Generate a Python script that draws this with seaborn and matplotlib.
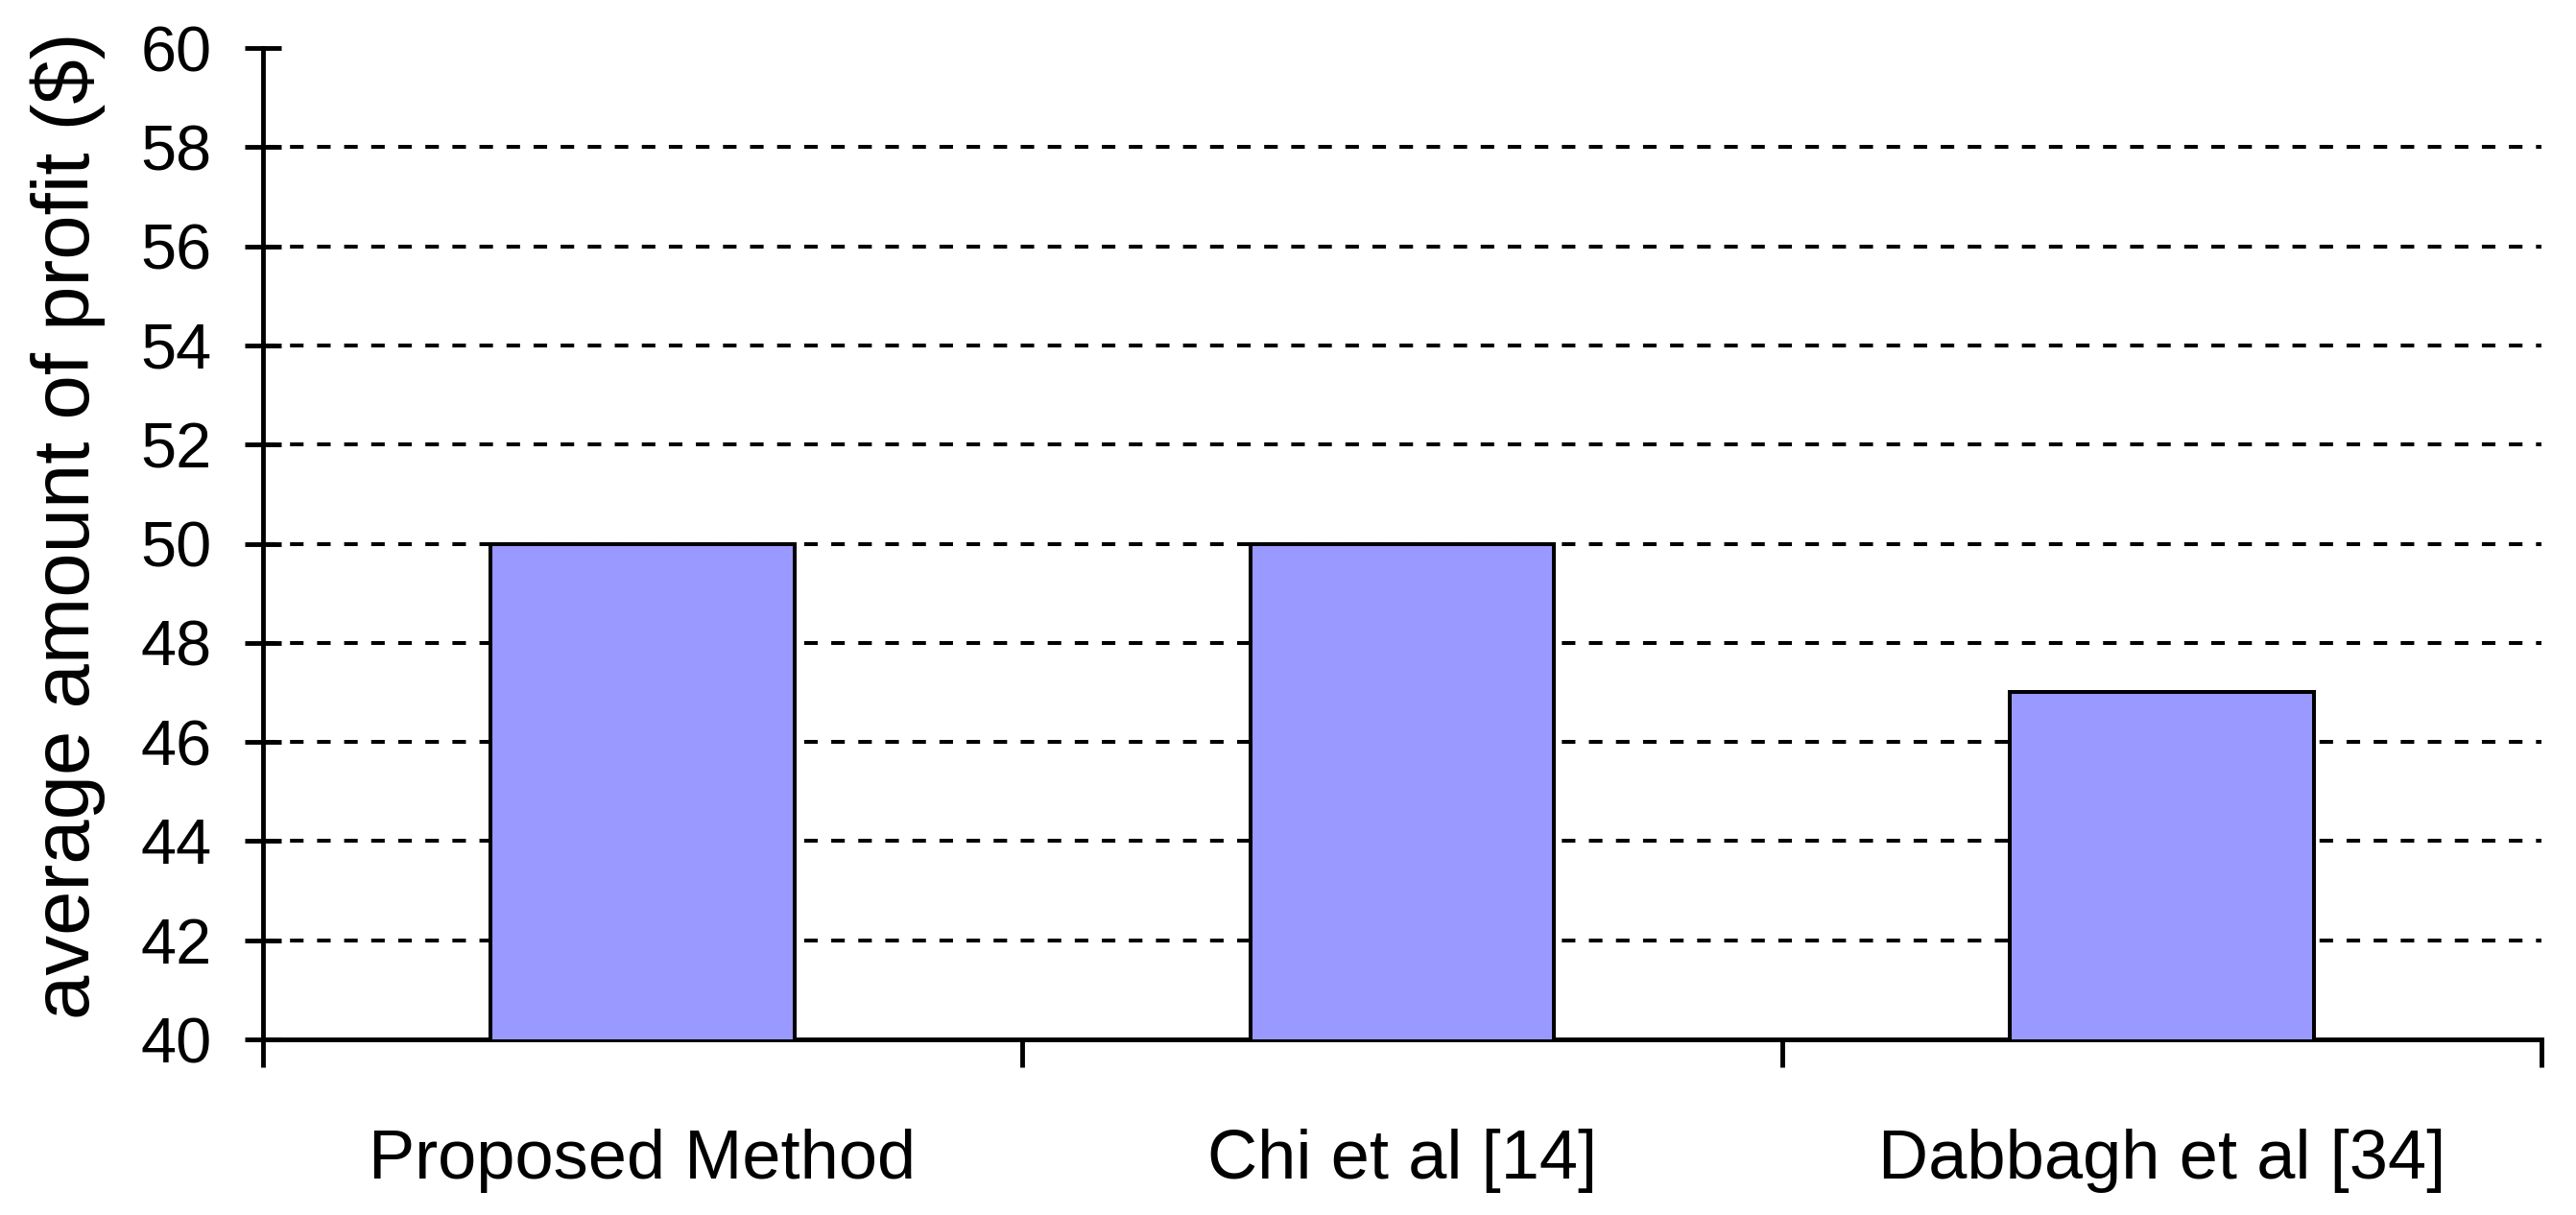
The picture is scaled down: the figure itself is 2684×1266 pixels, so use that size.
import matplotlib
matplotlib.use("Agg")
import matplotlib.pyplot as plt
import seaborn as sns
import pandas as pd

# Data
methods = ["Proposed Method", "Chi et al [14]", "Dabbagh et al [34]"]
profit = [50, 50, 47]
y_ticks = list(range(40, 61, 2))

df = pd.DataFrame({"method": methods, "profit": profit})

sns.set_style("white")
plt.rcParams["font.family"] = ["Liberation Sans", "DejaVu Sans"]
plt.rcParams["text.color"] = "black"
plt.rcParams["axes.labelcolor"] = "black"
plt.rcParams["xtick.color"] = "black"
plt.rcParams["ytick.color"] = "black"

fig = plt.figure(figsize=(26.84, 12.66), dpi=100)
ax = fig.add_axes([0.102, 0.1445, 0.8846, 0.816])

sns.barplot(data=df, x="method", y="profit", color="#9999FF", saturation=1,
            edgecolor="black", linewidth=2.9, width=0.4, ax=ax, zorder=3)

ax.set_ylim(40, 60)
ax.set_xlim(-0.5, 2.5)
ax.set_yticks(y_ticks)
ax.set_xlabel("")
ax.set_ylabel("average amount of profit ($)", fontsize=60, labelpad=26, y=0.518)

# dashed gridlines behind the bars (not at the top)
for yv in y_ticks[1:-1]:
    ax.axhline(yv, color="black", lw=2.9, linestyle=(0, (3.5, 3.5)), zorder=1)

# x ticks between categories, labels centred under bars
ax.set_xticks([-0.5, 0.5, 1.5, 2.5], minor=True)
ax.tick_params(axis="x", which="major", bottom=True, length=0, pad=67, labelsize=52)
ax.tick_params(axis="x", which="minor", bottom=True, direction="out", length=21,
               width=3.5, color="black")
ax.tick_params(axis="y", left=True, direction="inout", length=27, width=3.5,
               color="black", pad=25, labelsize=48)

for side in ["top", "right"]:
    ax.spines[side].set_visible(False)
for side in ["left", "bottom"]:
    ax.spines[side].set_color("black")
    ax.spines[side].set_linewidth(3.5)

fig.savefig("out.png", dpi=100, facecolor="white")
